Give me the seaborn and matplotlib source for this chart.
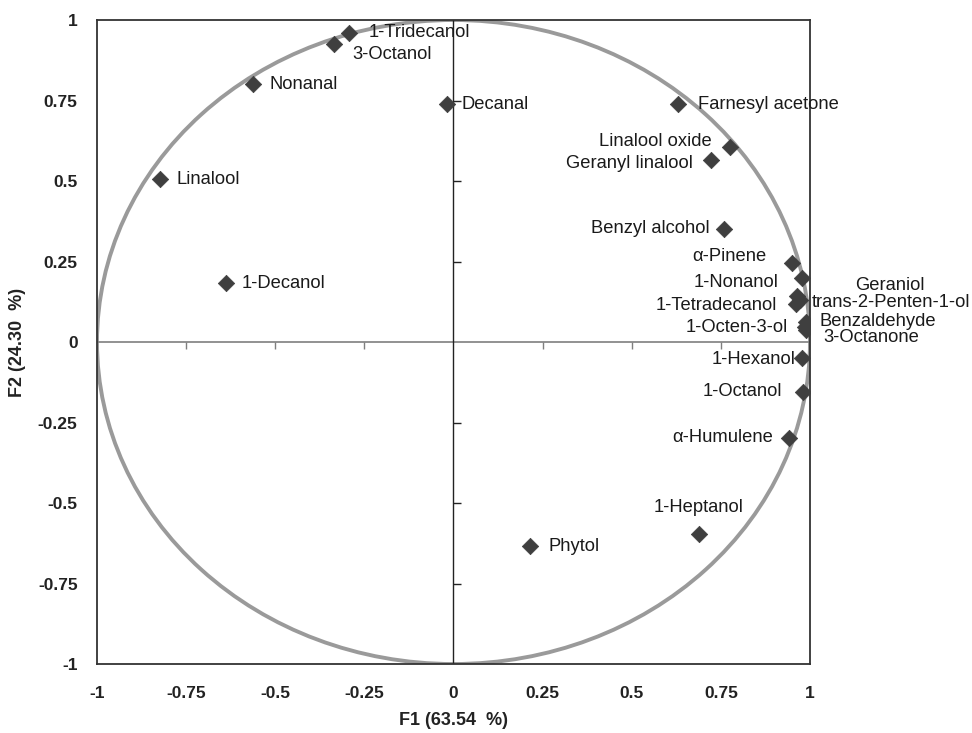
import numpy as np
import pandas as pd
import seaborn as sns
import matplotlib
matplotlib.use("Agg")
import matplotlib.pyplot as plt
from matplotlib.patches import Circle

names = ["Linalool", "1-Decanol", "Nonanal", "3-Octanol", "1-Tridecanol", "Decanal",
         "Farnesyl acetone", "Linalool oxide", "Geranyl linalool", "Benzyl alcohol",
         "α-Pinene", "Geraniol", "1-Nonanol", "1-Tetradecanol", "trans-2-Penten-1-ol",
         "1-Octen-3-ol", "Benzaldehyde", "3-Octanone", "1-Hexanol", "1-Octanol",
         "α-Humulene", "1-Heptanol", "Phytol"]
f1 = [-0.823, -0.638, -0.562, -0.335, -0.293, -0.018,
      0.630, 0.776, 0.722, 0.759,
      0.949, 0.977, 0.964, 0.962, 0.972,
      0.986, 0.989, 0.990, 0.978, 0.980,
      0.941, 0.689, 0.215]
f2 = [0.506, 0.183, 0.801, 0.925, 0.960, 0.739,
      0.739, 0.606, 0.565, 0.351,
      0.245, 0.199, 0.143, 0.118, 0.130,
      0.047, 0.062, 0.037, -0.050, -0.155,
      -0.297, -0.596, -0.634]
# label offsets (pixels) and alignment
label_dx = [16, 16, 16, 18, 20, 14, 20, -18, -18, -14, -25, 53, -19, -19, 12, -17, 13, 17, -7, -21, -16, 44, 18]
label_dy = [0, 0, 0, -10, 0, 0, 0, 5, -3, 0, 7, -8, 13, -1, -2, -1, 1, -7, -1, 0, 0, 26, 0]
label_ha = ["left", "left", "left", "left", "left", "left", "left", "right", "right", "right",
            "right", "left", "right", "right", "left", "right", "left", "left", "right", "right",
            "right", "right", "left"]

ticks = [-1, -0.75, -0.5, -0.25, 0, 0.25, 0.5, 0.75, 1]
tick_labels = ["-1", "-0.75", "-0.5", "-0.25", "0", "0.25", "0.5", "0.75", "1"]
xlabel = "F1 (63.54  %)"
ylabel = "F2 (24.30  %)"

df = pd.DataFrame({"F1": f1, "F2": f2, "name": names})

sns.set_style("white")
plt.rcParams["font.family"] = ["Liberation Sans", "DejaVu Sans"]

fig = plt.figure(figsize=(9.72, 7.33), dpi=100)
ax = fig.add_axes([0.0998, 0.0941, 0.7335, 0.8786])

ax.add_patch(Circle((0, 0), 1, fill=False, edgecolor="#9a9a9a", linewidth=2.8, zorder=1))
ax.axhline(0, color="#7f7f7f", linewidth=1.2, zorder=2)
ax.axvline(0, color="#222222", linewidth=1.0, zorder=2)

# inner tick marks on the crosshair axes
inner = [t for t in ticks if t not in (-1, 0, 1)]
ax.vlines(inner, -0.022, 0, color="#7f7f7f", linewidth=1.0, zorder=2)
ax.hlines(inner, 0, 0.02, color="#222222", linewidth=1.0, zorder=2)

sns.scatterplot(data=df, x="F1", y="F2", marker="D", s=70, color="#3f3f3f",
                edgecolor="#3f3f3f", linewidth=0.5, ax=ax, zorder=3, legend=False)

for n, x, y, dx, dy, ha in zip(names, f1, f2, label_dx, label_dy, label_ha):
    ax.annotate(n, (x, y), xytext=(dx * 0.72, dy * 0.72), textcoords="offset points",
                ha=ha, va="center", fontsize=13.2, color="#1a1a1a", zorder=4)

ax.set_xlim(-1, 1)
ax.set_ylim(-1, 1)
ax.set_xticks(ticks)
ax.set_xticklabels(tick_labels)
ax.set_yticks(ticks)
ax.set_yticklabels(tick_labels)
ax.tick_params(axis="both", length=0, labelsize=12.5)
ax.tick_params(axis="x", pad=16)
ax.tick_params(axis="y", pad=14)
for lab in ax.get_xticklabels() + ax.get_yticklabels():
    lab.set_fontweight("bold")
    lab.set_color("#222222")
ax.set_xlabel(xlabel, fontsize=13, fontweight="bold", color="#222222")
ax.set_ylabel(ylabel, fontsize=13, fontweight="bold", color="#222222")
ax.xaxis.set_label_coords(0.5, -0.087)
ax.xaxis.label.set_va("center")
ax.yaxis.set_label_coords(-0.111, 0.5)
ax.yaxis.label.set_va("center")
for s in ax.spines.values():
    s.set_visible(True)
    s.set_color("#333333")
    s.set_linewidth(1.3)

fig.savefig("out.png", dpi=100, facecolor="white")
